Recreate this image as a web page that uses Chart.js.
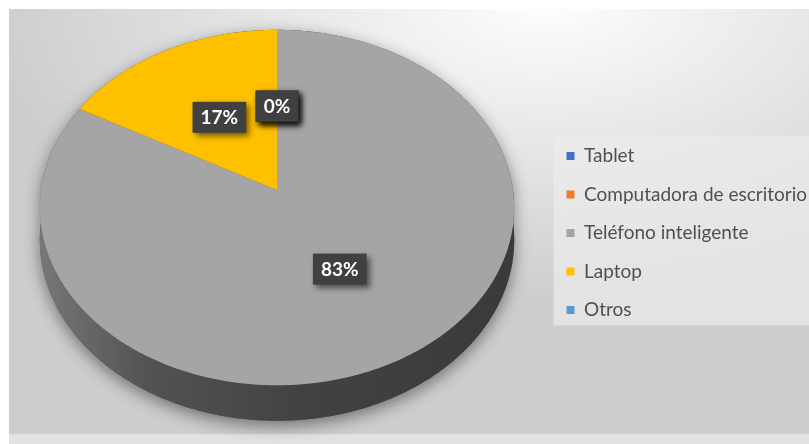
<!DOCTYPE html>
<html>
<head>
<meta charset="utf-8">
<script src="https://cdn.jsdelivr.net/npm/chart.js@4.4.1/dist/chart.umd.min.js"></script>
<style>
  html, body { margin: 0; padding: 0; background: #ffffff; }
  canvas { display: block; }
</style>
</head>
<body>
<canvas id="chart" width="809" height="444"></canvas>
<script>
// Device share data
const categories = ['Tablet', 'Computadora de escritorio', 'Teléfono inteligente', 'Laptop', 'Otros'];
const shares = [0, 0, 83, 17, 0];
const sliceColors = ['#4472C4', '#ED7D31', '#A5A5A5', '#FFC000', '#5B9BD5'];

// Viewing parameters for the tilted 3D disc
const view = { stretchX: 1.341, perspective: 0.0986, depth: 32 };

// Perspective projection of a point on the unit disc (ux right, vy toward viewer)
function project(el, ux, vy, drop) {
  const s = 1 / (1 - view.perspective * vy);
  return [el.x + el.outerRadius * view.stretchX * ux * s,
          el.y + (el.outerRadius * vy + drop) * s];
}

function rimPath(ctx, el, a0, a1, drop, move) {
  const n = Math.max(2, Math.ceil(Math.abs(a1 - a0) / 0.01));
  for (let i = 0; i <= n; i++) {
    const a = a0 + (a1 - a0) * i / n;
    const [px, py] = project(el, Math.cos(a), Math.sin(a), drop);
    if (i === 0 && move) ctx.moveTo(px, py); else ctx.lineTo(px, py);
  }
}

function shade(hex, f) {
  const n = parseInt(hex.slice(1), 16);
  const r = Math.round(((n >> 16) & 255) * f);
  const g = Math.round(((n >> 8) & 255) * f);
  const b = Math.round((n & 255) * f);
  return `rgb(${r},${g},${b})`;
}

const pie3d = {
  id: 'pie3d',
  beforeDraw(chart) {
    const ctx = chart.ctx;
    const W = chart.width, H = chart.height;
    ctx.save();
    ctx.fillStyle = '#ffffff';
    ctx.fillRect(0, 0, W, H);
    ctx.fillStyle = '#e2e2e2';
    ctx.fillRect(9, 434, W - 9, H - 434);
    // soft elliptical backdrop
    ctx.beginPath();
    ctx.rect(9, 9, W - 9, 425);
    ctx.clip();
    ctx.translate(545, 0);
    ctx.scale(1, 300 / 560);
    const g = ctx.createRadialGradient(0, 0, 0, 0, 0, 560);
    g.addColorStop(0, '#ffffff');
    g.addColorStop(0.12, '#f8f8f8');
    g.addColorStop(0.5, '#e6e6e6');
    g.addColorStop(1, '#cdcdcd');
    ctx.fillStyle = g;
    ctx.fillRect(-700, -50, 1000, 1000);
    ctx.restore();

    // legend panel
    const boxes = chart.legend && chart.legend.legendHitBoxes;
    if (boxes && boxes.length) {
      const first = boxes[0], last = boxes[boxes.length - 1];
      const top = first.top - 11;
      const bottom = last.top + last.height + 6;
      const left = first.left - 13;
      ctx.save();
      ctx.fillStyle = 'rgba(236,236,236,0.72)';
      ctx.fillRect(left, top, W - left, bottom - top);
      ctx.restore();
    }
  },
  beforeDatasetsDraw(chart) {
    const ctx = chart.ctx;
    const arcs = chart.getDatasetMeta(0).data;
    if (!arcs.length) return false;
    const base = arcs[0].getProps(['x', 'y', 'outerRadius'], true);
    const D = view.depth;

    // drop shadow of the whole disc
    ctx.save();
    ctx.beginPath();
    rimPath(ctx, base, Math.PI, 2 * Math.PI, 0, true);
    rimPath(ctx, base, 0, Math.PI, D, false);
    ctx.closePath();
    ctx.shadowColor = 'rgba(0,0,0,0.45)';
    ctx.shadowBlur = 16;
    ctx.shadowOffsetY = 5;
    ctx.fillStyle = '#555555';
    ctx.fill();
    ctx.restore();

    const left = base.x - base.outerRadius * view.stretchX;
    const right = base.x + base.outerRadius * view.stretchX;

    // outer walls (front half only)
    arcs.forEach((arc, i) => {
      const p = arc.getProps(['x', 'y', 'startAngle', 'endAngle', 'outerRadius'], true);
      const lo = Math.max(p.startAngle, 0);
      const hi = Math.min(p.endAngle, Math.PI);
      if (hi - lo <= 1e-6) return;
      const grad = ctx.createLinearGradient(left, 0, right, 0);
      const c = sliceColors[i];
      grad.addColorStop(0, shade(c, 0.72));
      grad.addColorStop(0.22, shade(c, 0.5));
      grad.addColorStop(0.55, shade(c, 0.4));
      grad.addColorStop(1, shade(c, 0.35));
      ctx.save();
      ctx.beginPath();
      rimPath(ctx, p, lo, hi, 0, true);
      rimPath(ctx, p, hi, lo, D, false);
      ctx.closePath();
      ctx.fillStyle = grad;
      ctx.fill();
      ctx.restore();
    });

    // top faces
    arcs.forEach((arc, i) => {
      const p = arc.getProps(['x', 'y', 'startAngle', 'endAngle', 'outerRadius'], true);
      if (p.endAngle - p.startAngle <= 1e-6) return;
      ctx.save();
      ctx.beginPath();
      const [cx, cy] = project(p, 0, 0, 0);
      ctx.moveTo(cx, cy);
      rimPath(ctx, p, p.startAngle, p.endAngle, 0, false);
      ctx.closePath();
      ctx.fillStyle = sliceColors[i];
      ctx.fill();
      ctx.restore();
    });
    return false;
  },
  afterDraw(chart) {
    const ctx = chart.ctx;
    const arcs = chart.getDatasetMeta(0).data;
    const total = shares.reduce((a, b) => a + b, 0);
    ctx.save();
    ctx.font = 'bold 19px Lato';
    ctx.textAlign = 'center';
    ctx.textBaseline = 'middle';
    arcs.forEach((arc, i) => {
      const p = arc.getProps(['x', 'y', 'outerRadius'], true);
      const c = arc.tooltipPosition(true);
      const [lx, ly] = project(p, (c.x - p.x) / p.outerRadius, (c.y - p.y) / p.outerRadius, 0);
      const text = Math.round(shares[i] / total * 100) + '%';
      const w = ctx.measureText(text).width + 16;
      const h = 31;
      ctx.save();
      ctx.shadowColor = 'rgba(0,0,0,0.55)';
      ctx.shadowBlur = 6;
      ctx.shadowOffsetX = 3;
      ctx.shadowOffsetY = 3;
      ctx.fillStyle = '#404040';
      ctx.fillRect(lx - w / 2, ly - h / 2, w, h);
      ctx.restore();
      ctx.fillStyle = '#ffffff';
      ctx.fillText(text, lx, ly + 1);
    });
    ctx.restore();
  }
};

new Chart(document.getElementById('chart'), {
  type: 'pie',
  data: {
    labels: categories,
    datasets: [{
      data: shares,
      backgroundColor: sliceColors,
      borderWidth: 0
    }]
  },
  options: {
    responsive: false,
    animation: false,
    layout: { padding: { left: 7, top: 14, right: 0, bottom: 78 } },
    plugins: {
      tooltip: { enabled: false },
      legend: {
        position: 'right',
        align: 'start',
        maxWidth: 262,
        title: { display: true, text: ' ', font: { size: 10, lineHeight: 1 }, padding: { top: 103, bottom: 0 } },
        labels: {
          boxWidth: 8,
          boxHeight: 8,
          padding: 19.5,
          color: '#505050',
          font: { family: 'Lato', size: 19 }
        }
      }
    }
  },
  plugins: [pie3d]
});
</script>
</body>
</html>
